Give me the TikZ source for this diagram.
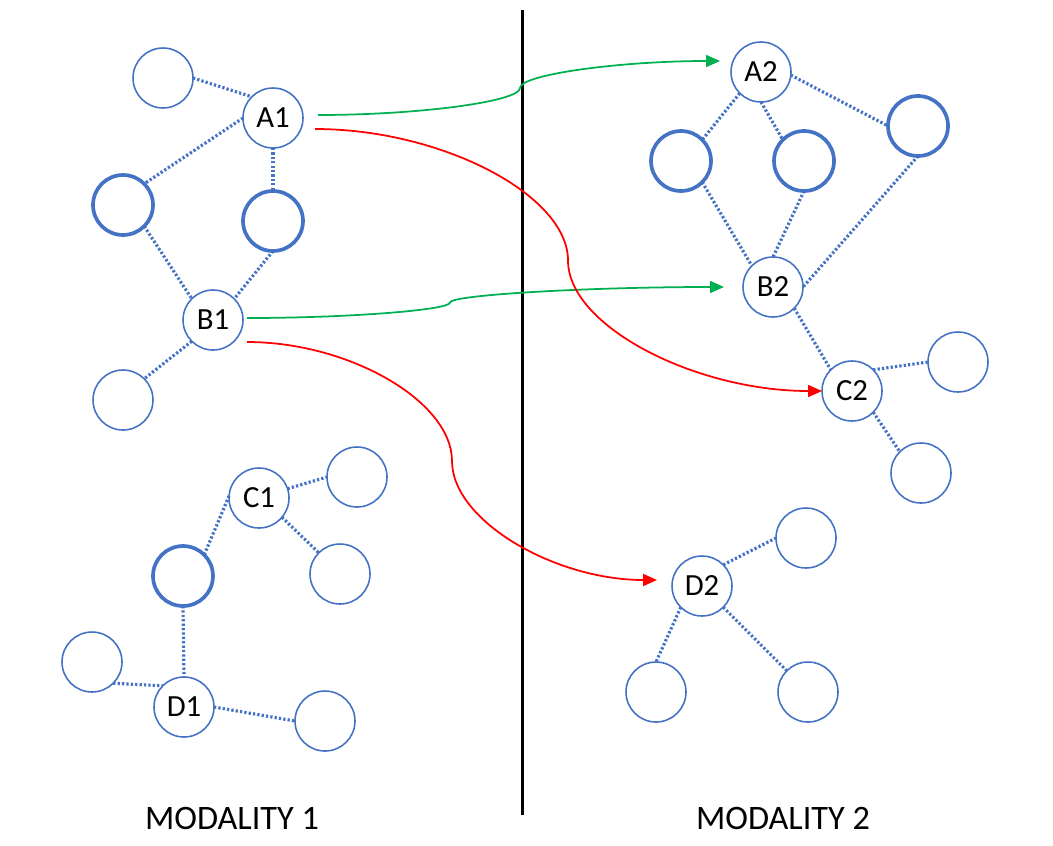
\documentclass[tikz,border=0pt]{standalone}
\usepackage{fontspec}
\setmainfont{Carlito}
\usetikzlibrary{arrows.meta,calc}
\definecolor{ob}{HTML}{4472C4}
\definecolor{gr}{HTML}{00B050}
\definecolor{rd}{HTML}{FF0000}
\begin{document}
\begin{tikzpicture}[x=0.02cm,y=-0.02cm,
 nd/.style={circle,draw=ob,line width=0.9pt,minimum size=1.2cm,inner sep=0pt,outer sep=0pt,font=\fontsize{17.5}{17.5}\selectfont},
 tk/.style={nd,line width=2.1pt},
 ed/.style={draw=ob,line width=1.8pt,dash pattern=on 1.3pt off 1.2pt},
 tipp/.style={-{Triangle[length=0.28cm,width=0.24cm]}},
 ga/.style={draw=gr,line width=1pt,tipp},
 ra/.style={draw=rd,line width=1pt,tipp},
 lab/.style={font=\fontsize{19.5}{20}\selectfont}]
\useasboundingbox (0,0) rectangle (1053,845);
% left nodes
\node[nd] (e1) at (163,78) {};
\node[nd] (A1) at (273,118) {A1};
\node[tk] (t1) at (123,205) {};
\node[tk] (t2) at (273,221) {};
\node[nd] (B1) at (213,320) {B1};
\node[nd] (e2) at (123,400) {};
\node[nd] (C1) at (259,498) {C1};
\node[nd] (e3) at (357,477) {};
\node[nd] (e4) at (340,574) {};
\node[tk] (t3) at (183,576) {};
\node[nd] (D1) at (184,707) {D1};
\node[nd] (e5) at (92,662) {};
\node[nd] (e6) at (325,721) {};
% right nodes
\node[nd] (A2) at (761,72) {A2};
\node[tk] (t4) at (681,161) {};
\node[tk] (t5) at (804,161) {};
\node[tk] (t6) at (918,126) {};
\node[nd] (B2) at (773,287) {B2};
\node[nd] (C2) at (852,391) {C2};
\node[nd] (e7) at (958,362) {};
\node[nd] (e8) at (921,473) {};
\node[nd] (D2) at (702,586) {D2};
\node[nd] (e9) at (806,538) {};
\node[nd] (e10) at (656,692) {};
\node[nd] (e11) at (808,692) {};
% dotted edges left
\draw[ed] (e1.east) -- (A1.north west);
\draw[ed] (A1.west) -- (t1.north east);
\draw[ed] (A1.south) -- (t2.north);
\draw[ed] (t1.south east) -- (B1.north west);
\draw[ed] (t2.south) -- (B1.north east);
\draw[ed] (B1.south west) -- (e2.north east);
\draw[ed] (C1.18) -- (e3.west);
\draw[ed] (C1.-40) -- (e4.north west);
\draw[ed] (C1.176) -- (t3.north east);
\draw[ed] (t3.south) -- (D1.north);
\draw[ed] (e5.south east) -- (D1.north west);
\draw[ed] (D1.east) -- (e6.west);
% dotted edges right
\draw[ed] (A2.south west) -- (t4.north east);
\draw[ed] (A2.south) -- (t5.north west);
\draw[ed] (A2.-6) -- (t6.west);
\draw[ed] (t4.south east) -- (B2.north west);
\draw[ed] (t5.south) -- (B2.north);
\draw[ed] (t6.south) -- (B2.east);
\draw[ed] (B2.south east) -- (C2.north west);
\draw[ed] (C2.north east) -- (e7.west);
\draw[ed] (C2.south east) -- (e8.north west);
\draw[ed] (D2.north east) -- (e9.west);
\draw[ed] (D2.south west) -- (e10.north);
\draw[ed] (D2.south east) -- (e11.north west);
% divider
\coordinate (vt) at (522,10);
\coordinate (vb) at (522,815);
\draw[line width=1.7pt] (vt) -- (vb);
% connector ends
\coordinate (gA1s) at ($(A1)+(45,-3)$);
\coordinate (gA2e) at ($(A2)+(-41,-11)$);
\coordinate (gB1s) at ($(B1)+(34,-2)$);
\coordinate (gB2e) at ($(B2)+(-49,0)$);
\coordinate (rA1s) at ($(A1)+(42,11)$);
\coordinate (rB1s) at ($(B1)+(34,22)$);
\coordinate (rD2e) at ($(D2)+(-45,-6)$);
% arrows
\draw[ga] (gA1s) .. controls (419,115) and (520,101.5) .. (520,88)
  .. controls (520,74.5) and (620,61) .. (gA2e);
\draw[ga] (gB1s) .. controls (348.5,318) and (450,310) .. (450,302.5)
  .. controls (450,295) and (587,287) .. (gB2e);
\draw[ra] (rA1s) .. controls (441.5,129) and (568,195) .. (568,260.5)
  .. controls (568,326) and (695,391) .. (C2.west);
\draw[ra] (rB1s) .. controls (349.5,342) and (452,401.5) .. (452,461)
  .. controls (452,520.5) and (554.5,580) .. (rD2e);
% labels
\node[lab] (m1) at (232,818) {MODALITY 1};
\node[lab] (m2) at (783,818) {MODALITY 2};
\end{tikzpicture}
\end{document}
